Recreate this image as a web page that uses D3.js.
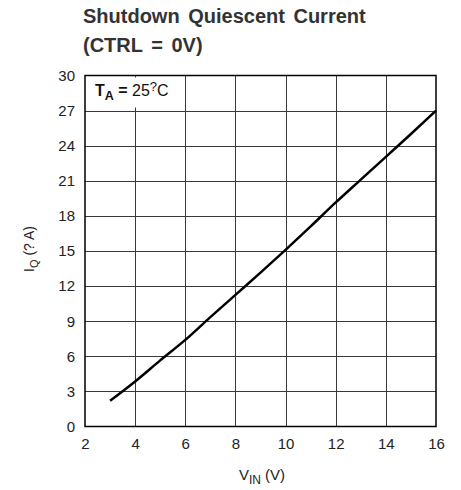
<!DOCTYPE html>
<html>
<head>
<meta charset="utf-8">
<script src="https://cdn.jsdelivr.net/npm/d3@7"></script>
<style>
  html, body { margin: 0; padding: 0; background: #fff; }
  svg { display: block; font-family: "Liberation Sans", Arial, sans-serif; }
</style>
</head>
<body>
<svg id="chart" width="461" height="490"></svg>
<script>
// Shutdown quiescent current vs. input voltage at 25 °C
const vin = [3, 4, 5, 6, 7, 8, 9, 10, 11, 12, 13, 14, 15, 16];
const iq = [2.2, 3.85, 5.65, 7.4, 9.35, 11.25, 13.15, 15.1, 17.1, 19.15, 21.1, 23.05, 25.0, 27.0];
const xTicks = [2, 4, 6, 8, 10, 12, 14, 16];
const yTicks = [0, 3, 6, 9, 12, 15, 18, 21, 24, 27, 30];

const svg = d3.select("#chart");
const plotL = 85, plotR = 436, plotT = 75.5, plotB = 426.5;

const x = d3.scaleLinear().domain([2, 16]).range([plotL, plotR]);
const y = d3.scaleLinear().domain([0, 30]).range([plotB, plotT]);

// Title
const title = svg.append("text")
  .attr("font-size", 20).attr("font-weight", "bold").attr("fill", "#333")
  .attr("word-spacing", 3);
title.append("tspan").attr("x", 83).attr("y", 23).text("Shutdown Quiescent Current");
title.append("tspan").attr("x", 83).attr("y", 52).text("(CTRL = 0V)");

// Grid
const grid = svg.append("g").attr("stroke", "#3a3a3a").attr("stroke-width", 1);
grid.selectAll("line.v").data(xTicks.slice(1, -1)).join("line")
  .attr("x1", d => Math.round(x(d)) + 0.5).attr("x2", d => Math.round(x(d)) + 0.5)
  .attr("y1", plotT).attr("y2", plotB);
grid.selectAll("line.h").data(yTicks.slice(1, -1)).join("line")
  .attr("x1", plotL).attr("x2", plotR)
  .attr("y1", d => Math.round(y(d)) + 0.5).attr("y2", d => Math.round(y(d)) + 0.5);

// Axes (labels only; frame drawn separately)
const xAxis = svg.append("g").attr("transform", `translate(0,${plotB})`)
  .call(d3.axisBottom(x).tickValues(xTicks).tickSize(0).tickPadding(12));
const yAxis = svg.append("g").attr("transform", `translate(${plotL},0)`)
  .call(d3.axisLeft(y).tickValues(yTicks).tickSize(0).tickPadding(10));
[xAxis, yAxis].forEach(g => {
  g.select(".domain").remove();
  g.selectAll("text").attr("font-size", 15).attr("fill", "#222")
    .attr("font-family", "'Liberation Sans', Arial, sans-serif");
});

// Plot frame
svg.append("rect")
  .attr("x", plotL).attr("y", plotT).attr("width", plotR - plotL).attr("height", plotB - plotT)
  .attr("fill", "none").attr("stroke", "#000").attr("stroke-width", 1.5);

// Curve
const line = d3.line().x((d, i) => x(vin[i])).y(d => y(d)).curve(d3.curveMonotoneX);
svg.append("path").datum(iq)
  .attr("d", line).attr("fill", "none").attr("stroke", "#000").attr("stroke-width", 2.5);

// Temperature annotation
svg.append("rect").attr("x", plotL + 1).attr("y", plotT + 2).attr("width", 86).attr("height", 30).attr("fill", "#fff");
const ta = svg.append("text").attr("x", 95).attr("y", 96).attr("font-size", 16).attr("fill", "#111");
ta.append("tspan").attr("font-weight", "bold").text("T");
ta.append("tspan").attr("font-weight", "bold").attr("font-size", 12.5).attr("dy", 4).text("A");
ta.append("tspan").attr("font-weight", "bold").attr("dy", -4).text(" = ");
ta.append("tspan").text("25");
ta.append("tspan").attr("font-size", 13).attr("dy", -5).text("?");
ta.append("tspan").attr("dy", 5).text("C");

// Axis titles
const xt = svg.append("text").attr("x", 262).attr("y", 480).attr("text-anchor", "middle")
  .attr("font-size", 15).attr("fill", "#222");
xt.append("tspan").text("V");
xt.append("tspan").attr("font-size", 12).attr("dy", 4).text("IN");
xt.append("tspan").attr("dy", -4).text(" (V)");

const yt = svg.append("text").attr("transform", "translate(34,249) rotate(-90)")
  .attr("text-anchor", "middle").attr("font-size", 14).attr("fill", "#222");
yt.append("tspan").text("I");
yt.append("tspan").attr("font-size", 11).attr("dy", 4).text("Q");
yt.append("tspan").attr("dy", -4).text(" (? A)");
</script>
</body>
</html>
